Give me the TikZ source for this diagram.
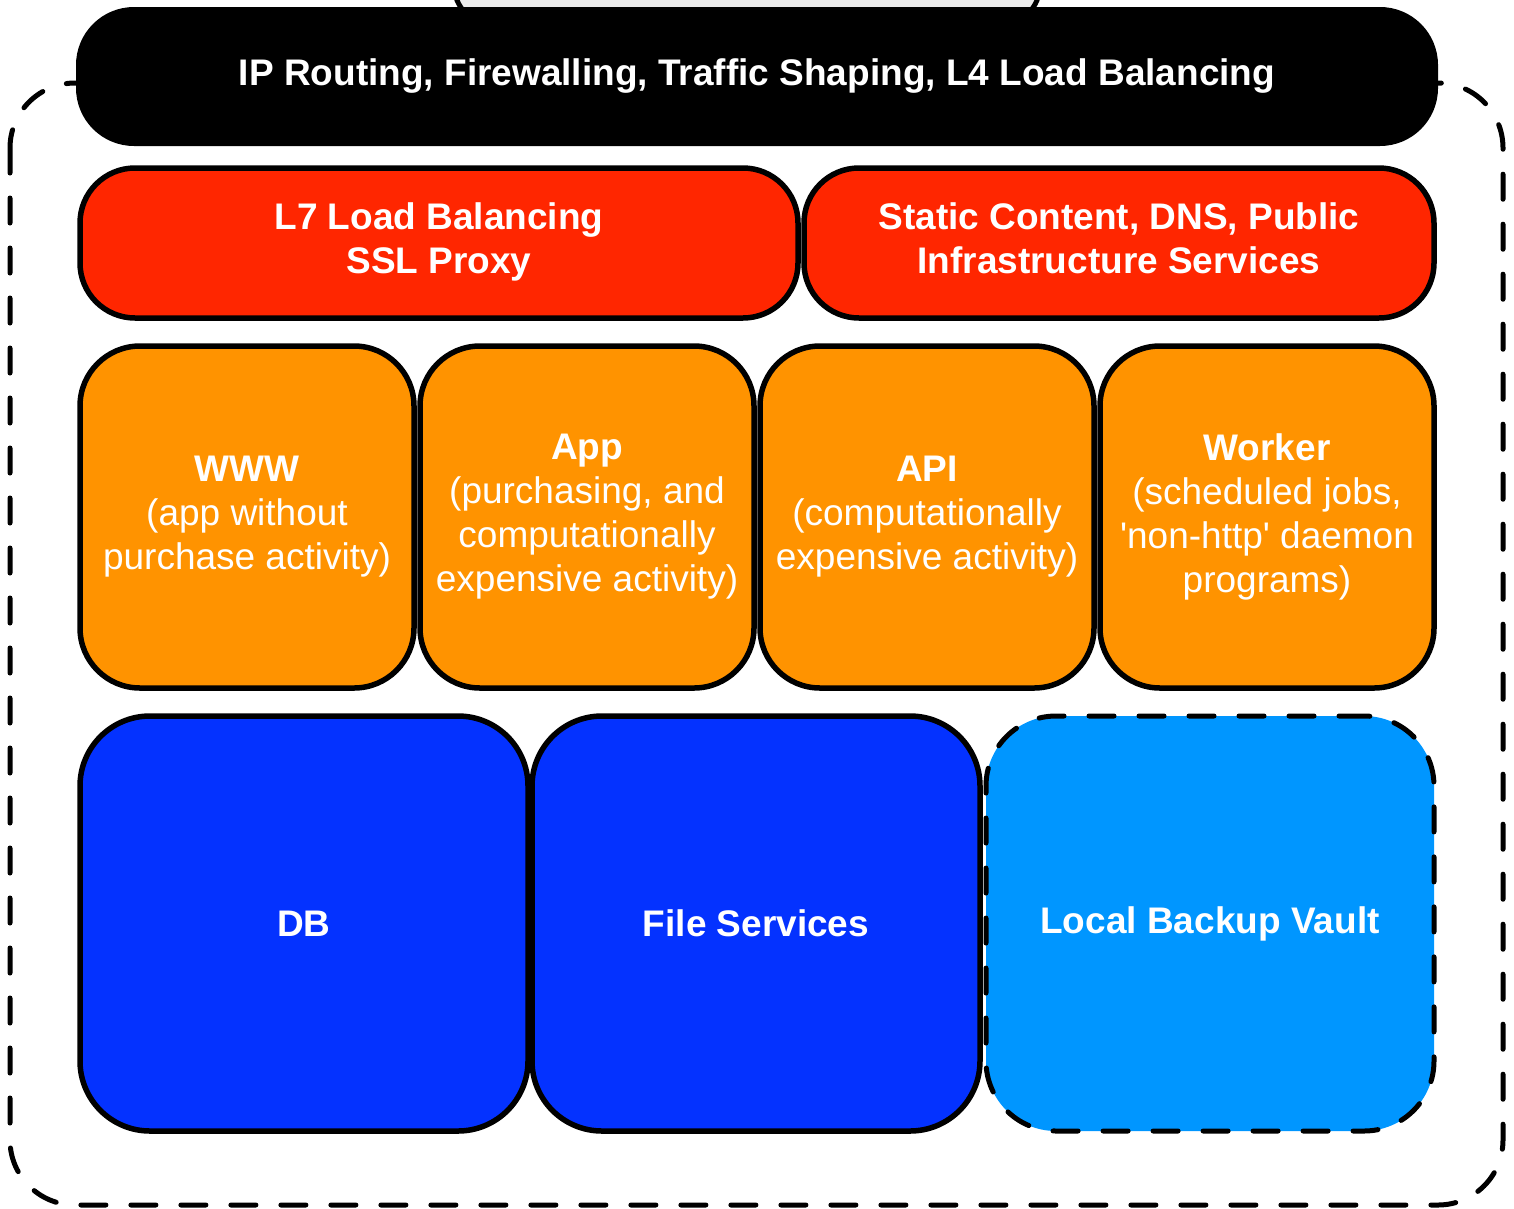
\documentclass[tikz,border=0pt]{standalone}
\usepackage{fontspec}
\setmainfont{Liberation Sans}
\definecolor{cblack}{HTML}{000000}
\definecolor{cred}{HTML}{FF2600}
\definecolor{corange}{HTML}{FF9300}
\definecolor{cblue}{HTML}{0432FF}
\definecolor{clblue}{HTML}{0096FF}
\definecolor{cgray}{HTML}{EBEBEB}
\begin{document}
\begin{tikzpicture}[x=1pt,y=-1pt,
  box/.style={draw=black,line width=5.5pt,rounded corners=#1,text=white,align=center,inner sep=0pt,
    font=\fontsize{37}{44}\selectfont},
  box/.default=55pt,
  dashline/.style={line width=5pt,line cap=round,dash pattern=on 25pt off 25pt}]
\useasboundingbox (0,0) rectangle (1514,1208);
\clip (0,0) rectangle (1514,1208);
% outer dashed frame
\draw[dashline,rounded corners=65pt] (10,83) rectangle (1503,1205);
% partially visible gray shape at top
\node[draw=black,fill=cgray,line width=5pt,rounded corners=40pt,minimum width=586pt,minimum height=140pt,inner sep=0pt] (topshape) at (747,-45) {};
% black bar
\node[box=58pt,fill=cblack,draw=none,minimum width=1362pt,minimum height=139pt] (ip) at (757,76.5)
  {\bfseries IP Routing, Firewalling, Traffic Shaping, L4 Load Balancing};
% red row
\node[box,fill=cred,minimum width=718pt,minimum height=150pt] (l7) at (439,243)
  {\bfseries\strut L7 Load Balancing\\\bfseries SSL Proxy\strut};
\node[box,fill=cred,minimum width=630pt,minimum height=150pt] (static) at (1119,243)
  {\bfseries\strut Static Content, DNS, Public\\\bfseries Infrastructure Services\strut};
% orange row
\node[box=60pt,fill=corange,minimum width=334pt,minimum height=342pt] (www) at (247,517)
  {\textbf{WWW}\\(app without\\purchase activity)};
\node[box=60pt,fill=corange,minimum width=334pt,minimum height=342pt] (app) at (587,517)
  {\textbf{App}\\(purchasing, and\\computationally\\expensive activity)};
\node[box=60pt,fill=corange,minimum width=334pt,minimum height=342pt] (api) at (927,517)
  {\textbf{API}\\(computationally\\expensive activity)};
\node[box=60pt,fill=corange,minimum width=334pt,minimum height=342pt] (worker) at (1267,517)
  {\textbf{Worker}\\(scheduled jobs,\\\textquotesingle non-http\textquotesingle\ daemon\\programs)};
% blue row
\node[box=70pt,fill=cblue,minimum width=448pt,minimum height=415pt] (db) at (304,923.5)
  {\bfseries DB};
\node[box=70pt,fill=cblue,minimum width=448pt,minimum height=415pt] (files) at (756,923.5)
  {\bfseries File Services};
\node[box=70pt,fill=clblue,dashline,minimum width=448pt,minimum height=415pt] (vault) at (1210,923.5)
  {\bfseries Local Backup Vault};
\end{tikzpicture}
\end{document}
